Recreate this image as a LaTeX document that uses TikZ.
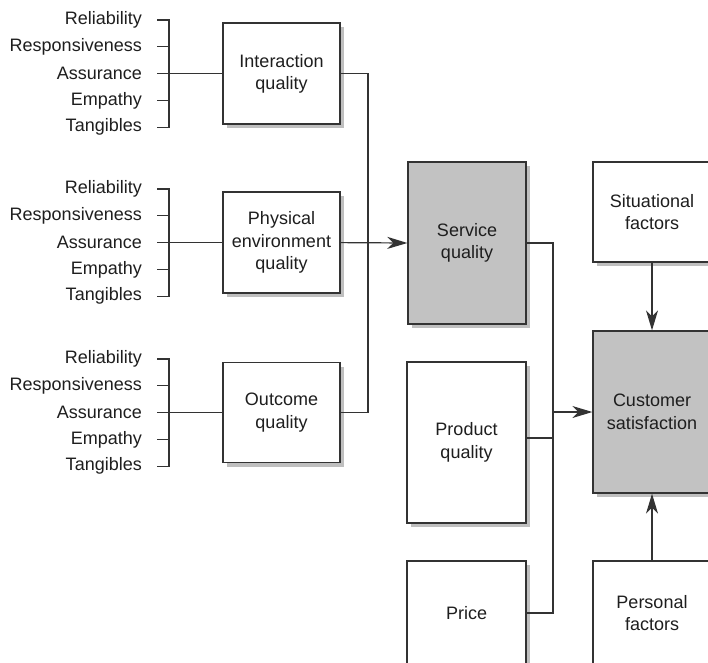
\documentclass[tikz,border=0pt]{standalone}
\usepackage{fontspec}
\setmainfont{Liberation Sans}
\usetikzlibrary{arrows.meta,shadows}
\definecolor{ink}{HTML}{1E1E1E}
\definecolor{linec}{HTML}{333333}
\definecolor{boxgray}{HTML}{C2C2C2}
\begin{document}
\begin{tikzpicture}[x=1pt,y=-1pt,
  every node/.style={font=\fontsize{18}{22.5}\selectfont, text=ink},
  lbl/.style={anchor=east, inner sep=0pt},
  box/.style={draw=linec, line width=1.3pt, fill=white, align=center, inner sep=0pt,
     drop shadow={shadow xshift=4pt, shadow yshift=-4pt, opacity=0.25, fill=black}},
  graybox/.style={box, fill=boxgray},
  conn/.style={draw=linec, line width=1.2pt},
  arr/.style={conn, -{Stealth[length=20pt,width=12pt,inset=6pt]}}]
\useasboundingbox (0,0) rectangle (708,662);
\clip (0,0) rectangle (708,662);
\fill[white] (0,0) rectangle (708,662);

% left groups
\foreach \g/\yo in {a/20, b/189, c/359}{
  \foreach \t [count=\k from 0] in {Reliability,Responsiveness,Assurance,Empathy,Tangibles}{
    \node[lbl] (\g\k) at (142,\yo+26.8*\k) {\t};
    \coordinate (\g b\k) at (169,\yo+26.8*\k);
  }
  \foreach \k in {1,3}{ \draw[conn] ([xshift=15pt]\g\k.east) -- (\g b\k); }
  \draw[conn] ([xshift=15pt]\g0.east) -- (\g b0) -- (\g b4) -- ([xshift=15pt]\g4.east);
}

\node[box, minimum width=117pt, minimum height=101pt] (int) at (281.5,73.6) {Interaction\\quality};
\node[box, minimum width=117pt, minimum height=101pt] (phys) at (281.5,242.6) {Physical\\environment\\quality};
\node[box, minimum width=117pt, minimum height=100pt] (out) at (281.5,412.6) {Outcome\\quality};

\draw[conn] ([xshift=15pt]a2.east) -- (int.west);
\draw[conn] ([xshift=15pt]b2.east) -- (phys.west);
\draw[conn] ([xshift=15pt]c2.east) -- (out.west);

\node[graybox, minimum width=118pt, minimum height=162pt] (serv) at (467,243) {Service\\quality};
\node[box, minimum width=119pt, minimum height=161pt] (prod) at (466.5,442.5) {Product\\quality};
\node[box, minimum width=119pt, minimum height=104pt] (price) at (466.5,613) {Price};
\node[box, minimum width=118pt, minimum height=100pt] (sit) at (652,212) {Situational\\factors};
\node[graybox, minimum width=118pt, minimum height=162pt] (cust) at (652,412) {Customer\\satisfaction};
\node[box, minimum width=118pt, minimum height=104pt] (pers) at (652,613) {Personal\\factors};

\coordinate (jA) at (368,242.6);
\draw[conn] (int.east) -| (jA) |- (out.east);
\draw[arr] (phys.east) -- (serv.west);

\coordinate (jB) at (553,412);
\coordinate (jP) at (553,438);
\draw[conn] (serv.east) -| (jB);
\draw[conn] (price.east) -| (jB);
\draw[conn] (prod.east |- jP) -- (jP);
\draw[arr] (jB) -- (cust.west);
\draw[arr] (sit.south) -- (cust.north);
\draw[arr] (pers.north) -- (cust.south);
\end{tikzpicture}
\end{document}
